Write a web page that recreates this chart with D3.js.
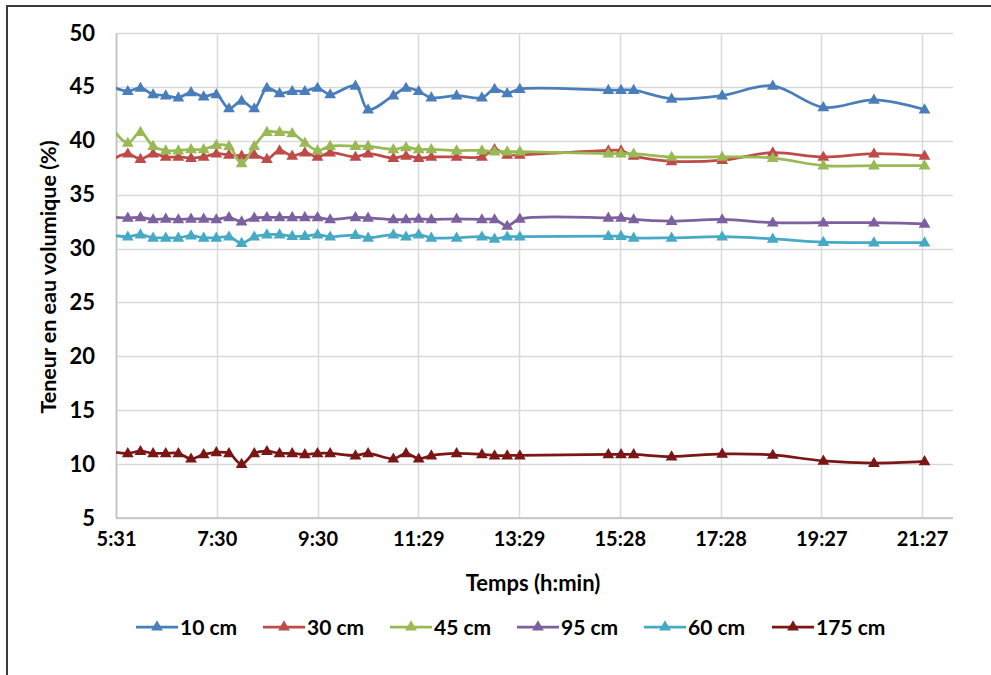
<!DOCTYPE html>
<html>
<head>
<meta charset="utf-8">
<script src="https://cdn.jsdelivr.net/npm/d3@7"></script>
<style>
  html, body { margin: 0; padding: 0; background: #fff; }
  svg { display: block; }
  text { font-family: Lato, "Open Sans", sans-serif; font-weight: bold; fill: #000; }
</style>
</head>
<body>
<svg id="chart" width="991" height="675"></svg>
<script>
// ---------- data ----------
const times = ["5:30","5:45","6:00","6:15","6:30","6:45","7:00","7:15","7:30","7:45","8:00","8:15","8:30","8:45","9:00","9:15","9:30","9:45","10:15","10:30","11:00","11:15","11:30","11:45","12:15","12:45","13:00","13:15","13:30","15:15","15:30","15:45","16:30","17:30","18:30","19:30","20:30","21:30"];
const seriesNames = ["10 cm","30 cm","45 cm","95 cm","60 cm","175 cm"];
const s10  = [44.9,44.6,44.9,44.3,44.2,44.0,44.5,44.1,44.3,43.0,43.7,43.0,44.9,44.4,44.6,44.6,44.9,44.3,45.1,42.9,44.2,44.9,44.6,44.0,44.2,44.0,44.8,44.4,44.8,44.7,44.7,44.7,43.9,44.2,45.1,43.1,43.8,42.9];
const s30  = [38.4,38.8,38.3,38.8,38.5,38.5,38.4,38.5,38.8,38.7,38.6,38.7,38.3,39.1,38.6,38.9,38.5,38.9,38.5,38.8,38.4,38.6,38.4,38.5,38.5,38.5,39.2,38.7,38.7,39.1,39.1,38.6,38.1,38.2,38.9,38.5,38.8,38.6];
const s45  = [40.8,39.8,40.8,39.5,39.1,39.1,39.2,39.2,39.6,39.5,37.9,39.5,40.8,40.8,40.7,39.8,39.1,39.5,39.5,39.5,39.2,39.4,39.2,39.2,39.1,39.1,39.0,39.0,39.0,38.8,38.8,38.8,38.5,38.5,38.4,37.7,37.7,37.7];
const s95  = [32.9,32.85,32.9,32.7,32.75,32.7,32.75,32.75,32.7,32.9,32.5,32.85,32.9,32.9,32.9,32.9,32.9,32.7,32.9,32.85,32.7,32.7,32.75,32.7,32.75,32.7,32.7,32.1,32.75,32.85,32.85,32.7,32.55,32.7,32.4,32.4,32.4,32.3];
const s60  = [31.2,31.1,31.3,31.0,31.0,31.0,31.2,31.0,31.0,31.1,30.5,31.1,31.3,31.3,31.15,31.15,31.3,31.1,31.25,31.0,31.3,31.1,31.3,31.0,31.0,31.1,30.9,31.1,31.1,31.15,31.15,31.0,31.0,31.1,30.9,30.6,30.55,30.55];
const s175 = [11.1,11.0,11.2,11.0,11.0,11.0,10.5,10.9,11.1,11.0,10.0,11.0,11.2,11.0,11.0,10.9,11.0,11.0,10.8,11.0,10.5,11.0,10.5,10.8,11.0,10.9,10.8,10.8,10.8,10.9,10.9,10.9,10.7,10.95,10.85,10.3,10.1,10.25];
const xTickLabels = ["5:31","7:30","9:30","11:29","13:29","15:28","17:28","19:27","21:27"];
const yTicks = [5,10,15,20,25,30,35,40,45,50];
const colors = ["#4a7ebb","#be4b48","#98b954","#7d60a0","#46aac5","#7a1616"];

// ---------- helpers ----------
const toMin = s => { const [h,m] = s.split(":").map(Number); return h*60+m; };
const allSeries = [s10,s30,s45,s95,s60,s175];

// ---------- layout ----------
const svg = d3.select("#chart");
const plot = {left:116, right:953, top:33, bottom:518};
const xStart = toMin(xTickLabels[0]), xEnd = toMin(xTickLabels[xTickLabels.length-1]);
const xTickStep = (xEnd - xStart) / (xTickLabels.length - 1);
const xTickVals = xTickLabels.map((d,i) => xStart + i*xTickStep);
const x = d3.scaleLinear().domain([xStart, xEnd]).range([116, 922]);
const y = d3.scaleLinear().domain([5, 50]).range([plot.bottom, plot.top]);

// outer frame
svg.append("rect").attr("x",7).attr("y",6).attr("width",1100).attr("height",800)
  .attr("fill","none").attr("stroke","#3a3a3a").attr("stroke-width",2);

// gridlines
const g = svg.append("g");
g.selectAll("line.hg").data(yTicks).join("line")
  .attr("x1",plot.left).attr("x2",plot.right)
  .attr("y1",d=>Math.round(y(d))+0.5).attr("y2",d=>Math.round(y(d))+0.5)
  .attr("stroke","#d9d9d9").attr("stroke-width",1.5);
g.selectAll("line.vg").data(xTickVals).join("line")
  .attr("x1",d=>Math.round(x(d))+0.5).attr("x2",d=>Math.round(x(d))+0.5)
  .attr("y1",plot.top).attr("y2",plot.bottom)
  .attr("stroke","#d9d9d9").attr("stroke-width",1.5);

// axes
const yAxis = d3.axisLeft(y).tickValues(yTicks).tickSize(0).tickPadding(21);
const yg = svg.append("g").attr("transform",`translate(${plot.left},0)`).call(yAxis);
yg.select(".domain").attr("stroke","#bfbfbf").attr("stroke-width",1.5);
yg.selectAll("text").style("font-size","22px").style("font-family","Lato, sans-serif").style("font-weight","bold").attr("fill","#000");

const xAxis = d3.axisBottom(x).tickValues(xTickVals).tickSize(0).tickPadding(14)
  .tickFormat((d,i) => xTickLabels[i]);
const xg = svg.append("g").attr("transform",`translate(0,${plot.bottom})`).call(xAxis);
xg.select(".domain").attr("stroke","#bfbfbf").attr("stroke-width",1.5).attr("d",`M${plot.left},0H${plot.right}`);
xg.selectAll("text").style("font-size","20px").style("font-family","Lato, sans-serif").style("font-weight","bold").attr("fill","#000");

// axis titles
svg.append("text").attr("x",533).attr("y",591).attr("text-anchor","middle")
  .style("font-size","22px").text("Temps (h:min)");
svg.append("text").attr("transform","translate(56,277) rotate(-90)").attr("text-anchor","middle")
  .style("font-size","21.5px").text("Teneur en eau volumique (%)");

// series
const clip = svg.append("clipPath").attr("id","pc").append("rect")
  .attr("x",plot.left).attr("y",0).attr("width",plot.right-plot.left+20).attr("height",plot.bottom);
const tri = d3.symbol().type(d3.symbolTriangle).size(60);
const line = d3.line().x(d=>x(d.t)).y(d=>y(d.v)).curve(d3.curveCatmullRom.alpha(0.5));

allSeries.forEach((vals,si) => {
  const pts = vals.map((v,i) => ({t: toMin(times[i]), v}));
  const sg = svg.append("g");
  sg.append("path").datum(pts).attr("d",line).attr("fill","none")
    .attr("stroke",colors[si]).attr("stroke-width",2.75).attr("stroke-linejoin","round")
    .attr("clip-path","url(#pc)");
  sg.selectAll("path.m").data(pts.filter(p => p.t >= xStart)).join("path")
    .attr("class","m").attr("d",tri)
    .attr("transform",d=>`translate(${x(d.t)},${y(d.v)+0.5})`)
    .attr("fill",colors[si]);
});

// legend
const legendX = [136,263,390,517,644,772];
const lg = svg.append("g");
seriesNames.forEach((name,i) => {
  const lx = legendX[i], ly = 627;
  lg.append("line").attr("x1",lx).attr("x2",lx+42).attr("y1",ly).attr("y2",ly)
    .attr("stroke",colors[i]).attr("stroke-width",2.75);
  lg.append("path").attr("d",tri).attr("transform",`translate(${lx+21},${ly})`).attr("fill",colors[i]);
  lg.append("text").attr("x",lx+44).attr("y",ly+8).style("font-size","21px").text(name);
});
</script>
</body>
</html>
